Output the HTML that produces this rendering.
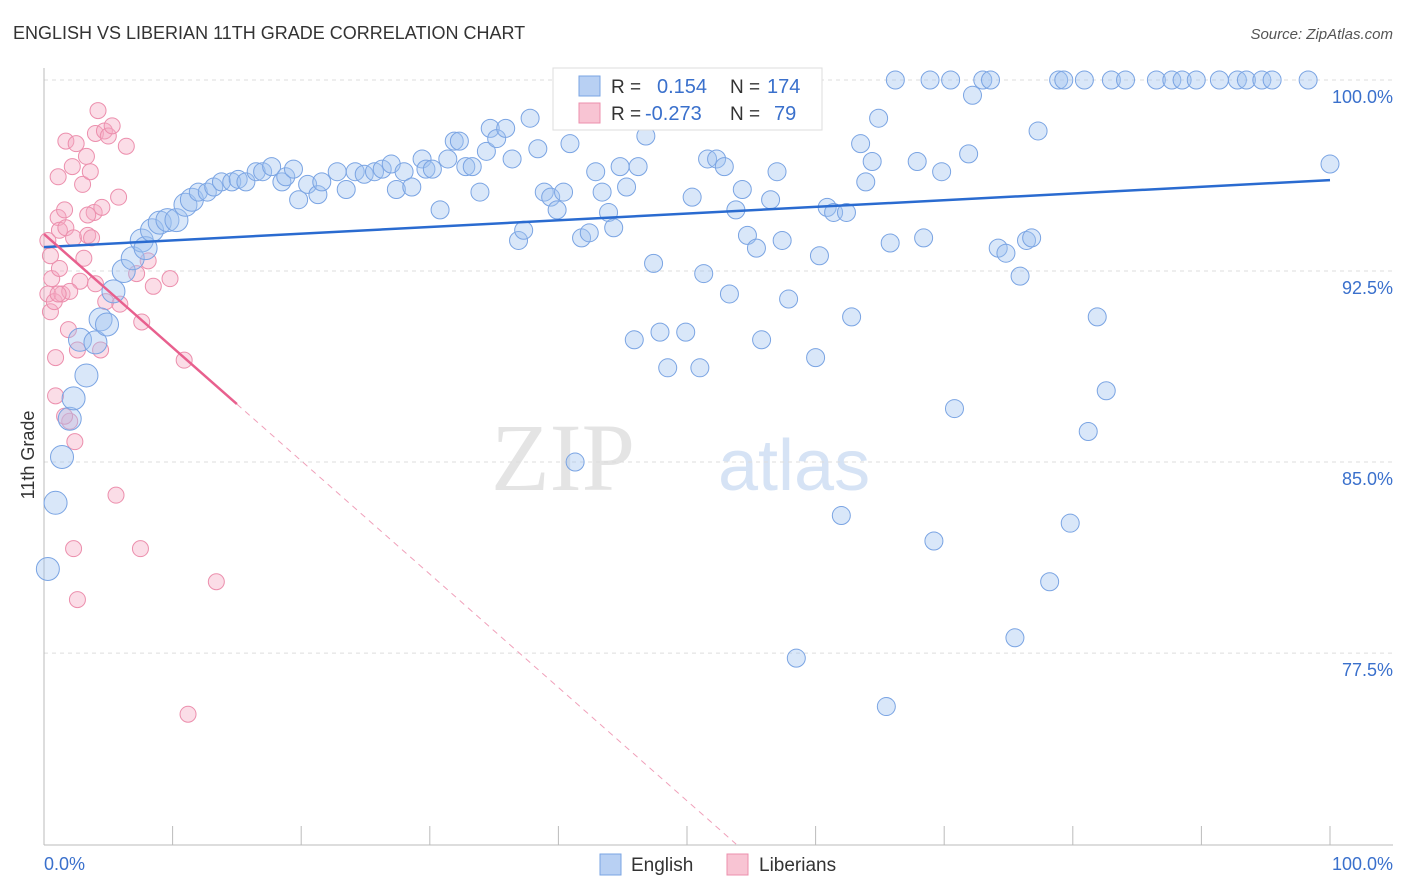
<!DOCTYPE html>
<html><head><meta charset="utf-8"><style>
body{margin:0;background:#fff;font-family:"Liberation Sans",sans-serif}
svg{display:block}
</style></head><body>
<svg id="chart" width="1406" height="892" xmlns="http://www.w3.org/2000/svg">
<text x="13" y="39" font-size="18" fill="#333">ENGLISH VS LIBERIAN 11TH GRADE CORRELATION CHART</text>
<text x="1393" y="39" font-size="15" fill="#555" text-anchor="end" font-style="italic">Source: ZipAtlas.com</text>
<text x="635" y="490" font-size="96" fill="#e4e4e4" font-family="Liberation Serif,serif" text-anchor="end">ZIP</text>
<text x="718" y="490" font-size="72" fill="#d6e3f5">atlas</text>
<g id="grid"></g><g id="axes"></g><g id="pink"></g><g id="blue"></g><g id="trends"></g>
<text transform="translate(34,455) rotate(-90)" font-size="18" fill="#333" text-anchor="middle">11th Grade</text>
<g>
<rect x="553" y="68" width="269" height="62" fill="#fff" stroke="#ddd"/>
<rect x="579" y="76" width="21" height="20" fill="#b8d0f3" stroke="#7aa4e3"/>
<rect x="579" y="103" width="21" height="20" fill="#f8c4d3" stroke="#ec8fad"/>
<text x="611" y="93" font-size="19" fill="#333">R =</text>
<text x="657" y="93" font-size="20" fill="#3a70cc">0.154</text>
<text x="730" y="93" font-size="19" fill="#333">N =</text>
<text x="767" y="93" font-size="20" fill="#3a70cc">174</text>
<text x="611" y="120" font-size="19" fill="#333">R =</text>
<text x="645" y="120" font-size="20" fill="#3a70cc">-0.273</text>
<text x="730" y="120" font-size="19" fill="#333">N =</text>
<text x="774" y="120" font-size="20" fill="#3a70cc">79</text>
</g>
<g>
<rect x="600" y="854" width="21" height="21" fill="#b8d0f3" stroke="#7aa4e3"/>
<text x="631" y="871" font-size="19" fill="#333">English</text>
<rect x="727" y="854" width="21" height="21" fill="#f8c4d3" stroke="#ec8fad"/>
<text x="759" y="871" font-size="19" fill="#333">Liberians</text>
</g>
<text x="44" y="870" font-size="18" fill="#3a70cc">0.0%</text>
<text x="1393" y="870" font-size="18" fill="#3a70cc" text-anchor="end">100.0%</text>
</svg>
<script>
const blueX=[0.3,0.9,1.4,2.0,2.3,3.3,2.8,4.0,4.4,4.9,5.4,6.2,6.9,7.6,7.9,8.4,9.0,9.6,10.3,11.0,11.5,12.0,12.7,13.2,13.8,14.6,15.1,15.7,16.5,17.0,17.7,18.5,18.8,19.4,19.8,20.5,21.3,21.6,22.8,23.5,24.2,24.9,25.7,26.3,27.0,27.4,28.0,28.6,29.4,29.7,30.2,30.8,31.4,31.9,32.3,32.8,33.3,33.9,34.4,34.7,35.2,35.9,36.4,36.9,37.3,37.8,38.4,38.9,39.4,39.9,40.4,40.9,41.3,41.8,42.4,42.9,43.4,43.9,44.3,44.8,45.3,45.9,46.2,46.8,47.4,47.9,48.5,49.9,50.4,51.0,51.3,51.6,52.3,52.9,53.3,53.8,54.3,54.7,55.4,55.8,56.5,57.0,57.4,57.9,58.5,59.4,60.0,60.3,60.9,61.4,62.0,62.4,62.8,63.5,63.9,64.4,64.9,65.5,65.8,66.2,67.9,68.4,68.9,69.2,69.8,70.5,70.8,71.9,72.2,73.0,73.6,74.2,74.8,75.5,75.9,76.4,76.8,77.3,78.2,78.9,79.3,79.8,80.9,81.2,81.9,82.6,83.0,84.1,86.5,87.7,88.5,89.6,91.4,92.8,93.5,94.7,95.5,98.3,100];
const blueY=[80.8,83.4,85.2,86.7,87.5,88.4,89.8,89.7,90.6,90.4,91.7,92.5,93.0,93.7,93.4,94.1,94.4,94.5,94.5,95.1,95.3,95.6,95.6,95.8,96.0,96.0,96.1,96.0,96.4,96.4,96.6,96.0,96.2,96.5,95.3,95.9,95.5,96.0,96.4,95.7,96.4,96.3,96.4,96.5,96.7,95.7,96.4,95.8,96.9,96.5,96.5,94.9,96.9,97.6,97.6,96.6,96.6,95.6,97.2,98.1,97.7,98.1,96.9,93.7,94.1,98.5,97.3,95.6,95.4,94.9,95.6,97.5,85.0,93.8,94.0,96.4,95.6,94.8,94.2,96.6,95.8,89.8,96.6,97.8,92.8,90.1,88.7,90.1,95.4,88.7,92.4,96.9,96.9,96.6,91.6,94.9,95.7,93.9,93.4,89.8,95.3,96.4,93.7,91.4,77.3,99.5,89.1,93.1,95.0,94.8,82.9,94.8,90.7,97.5,96.0,96.8,98.5,75.4,93.6,100,96.8,93.8,100,81.9,96.4,100,87.1,97.1,99.4,100,100,93.4,93.2,78.1,92.3,93.7,93.8,98.0,80.3,100,100,82.6,100,86.2,90.7,87.8,100,100,100,100,100,100,100,100,100,100,100,100,96.7];
const pinkX=[0.3,0.5,0.6,0.3,0.5,0.8,0.9,0.9,1.1,1.1,1.2,1.2,1.4,1.6,1.7,1.7,1.9,2.0,2.2,2.3,2.3,2.4,2.5,2.6,2.6,2.8,3.0,3.1,3.3,3.4,3.6,3.7,3.9,4.0,4.0,4.2,4.4,4.5,4.7,4.8,5.0,5.3,5.6,5.8,5.9,6.4,7.2,7.5,7.6,8.1,8.5,9.8,10.9,11.2,13.4,1.6,2.0,3.4,1.1];
const pinkY=[93.7,93.1,92.2,91.6,90.9,91.3,89.1,87.6,96.2,94.6,94.1,92.6,91.6,94.9,97.6,94.2,90.2,86.6,96.6,81.6,93.8,85.8,97.5,79.6,89.4,92.1,95.9,93.0,97.0,93.9,96.4,93.8,94.8,97.9,92.0,98.8,89.4,95.0,98.0,91.3,97.8,98.2,83.7,95.4,91.2,97.4,92.4,81.6,90.5,92.9,91.9,92.2,89.0,75.1,80.3,86.8,91.7,94.7,91.6];
const yTicks=[100,92.5,85,77.5];
const yTickLabels=["100.0%","92.5%","85.0%","77.5%"];
const xTicks=[0,10,20,30,40,50,60,70,80,90,100];
const blueTrend=[93.44,96.07];   // value at x=0 and x=100
const pinkTrend=[93.95,-0.445]; // intercept, slope
const pinkSolidEnd=15;
const NS="http://www.w3.org/2000/svg";
const X=v=>44+v*12.86;
const Y=v=>80+(100-v)*25.47;
function mk(tag,attrs,parent){const e=document.createElementNS(NS,tag);for(const k in attrs)e.setAttribute(k,attrs[k]);document.getElementById(parent).appendChild(e);return e;}
yTicks.forEach((t,i)=>{
  const l=mk('line',{x1:44,x2:1393,y1:Y(t),y2:Y(t),stroke:'#ddd','stroke-dasharray':'4,4'},'grid');
  
  
  const tx=mk('text',{x:1393,y:Y(t)+23,'font-size':18,fill:'#3a70cc','text-anchor':'end'},'grid');
  tx.textContent=yTickLabels[i];
  
  
});
const ax=mk('line',{x1:44,x2:1393,y1:845,y2:845,stroke:'#bbb'},'axes');


const ay=mk('line',{x1:44,x2:44,y1:68,y2:845,stroke:'#bbb'},'axes');


xTicks.forEach(t=>{
  const l=mk('line',{x1:X(t),x2:X(t),y1:826,y2:845,stroke:'#bbb'},'axes');
  
  
});
pinkX.forEach((x,i)=>{
  const c=mk('circle',{cx:X(x),cy:Y(pinkY[i]),r:8,fill:'rgba(246,170,196,0.4)',stroke:'#ec8fad','stroke-width':1},'pink');
  
  
});
blueX.forEach((x,i)=>{
  const r=x<12?11.5:9;
  const c=mk('circle',{cx:X(x),cy:Y(blueY[i]),r:r,fill:'rgba(160,194,240,0.4)',stroke:'#7aa4e3','stroke-width':1},'blue');
  
  
});
const bt=mk('line',{x1:X(0),y1:Y(blueTrend[0]),x2:X(100),y2:Y(blueTrend[1]),stroke:'#2a6bd0','stroke-width':2.5},'trends');


const pEnd=(70-pinkTrend[0])/pinkTrend[1];
const ps=mk('line',{x1:X(0),y1:Y(pinkTrend[0]),x2:X(pinkSolidEnd),y2:Y(pinkTrend[0]+pinkTrend[1]*pinkSolidEnd),stroke:'#e8608e','stroke-width':2.5},'trends');


const pd=mk('line',{x1:X(pinkSolidEnd),y1:Y(pinkTrend[0]+pinkTrend[1]*pinkSolidEnd),x2:X(pEnd),y2:Y(70),stroke:'#f0a0ba','stroke-width':1,'stroke-dasharray':'6,5'},'trends');


</script>
</body></html>
